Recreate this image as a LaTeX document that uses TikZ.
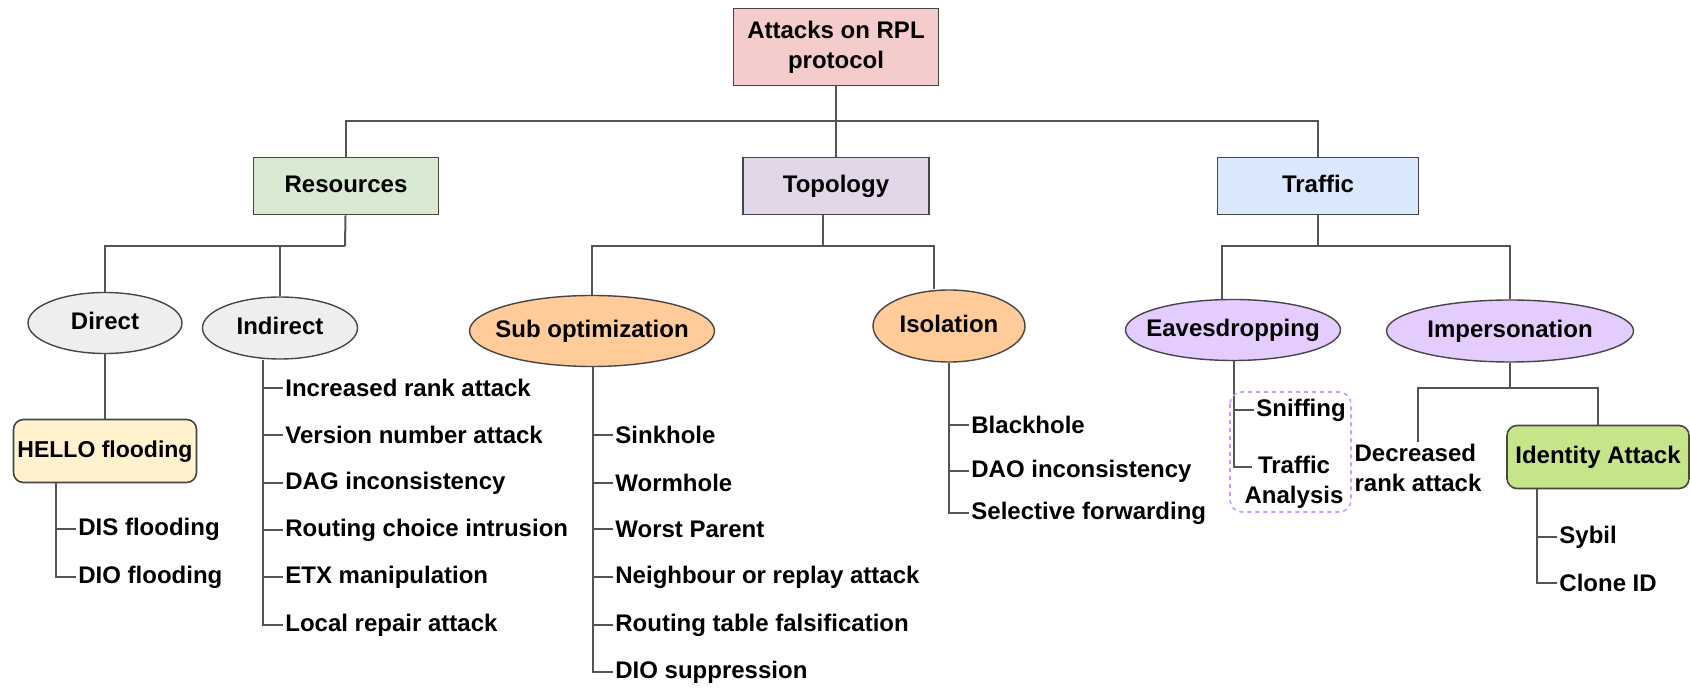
\documentclass[tikz,border=0pt]{standalone}
\usepackage{fontspec}
\setmainfont{Liberation Sans}
\usetikzlibrary{shapes.geometric}
\definecolor{rootred}{RGB}{244,204,204}
\definecolor{resgreen}{RGB}{217,234,211}
\definecolor{topopurple}{RGB}{226,214,232}
\definecolor{trafblue}{RGB}{218,232,252}
\definecolor{ovgray}{RGB}{238,238,238}
\definecolor{ovorange}{RGB}{255,204,153}
\definecolor{ovpurple}{RGB}{229,204,255}
\definecolor{hellocream}{RGB}{255,242,204}
\definecolor{idgreen}{RGB}{198,229,137}
\definecolor{dotpurple}{RGB}{204,153,255}
\definecolor{edge}{RGB}{70,70,70}
\definecolor{wire}{RGB}{85,85,85}

\begin{document}
\begin{tikzpicture}[x=0.5pt,y=-0.5pt,
  font=\fontsize{12}{15}\selectfont\bfseries,
  box/.style={draw=edge,line width=0.8pt,minimum height=28.5pt,align=center},
  oneline/.style={text height=9pt,text depth=2.6pt},
  oval/.style={ellipse,draw=edge,line width=0.7pt,inner xsep=-6pt,inner ysep=0pt,oneline},
  item/.style={anchor=west,inner sep=1pt},
  link/.style={draw=wire,line width=1pt},
  dotbox/.style={draw=dotpurple,line width=0.8pt,dash pattern=on 2pt off 2pt,rounded corners=6pt}]
\useasboundingbox (0,0) rectangle (1690,688); % frame of the page

% root and the three classes
\node[box,fill=rootred,minimum width=102.5pt,minimum height=38.5pt] (root) at (836,47) {Attacks on RPL\\protocol};
\node[box,oneline,fill=resgreen,minimum width=92.5pt] (res) at (346,186) {Resources};
\node[box,oneline,fill=topopurple,minimum width=93pt] (topo) at (836,186) {Topology};
\node[box,oneline,fill=trafblue,minimum width=100.5pt] (traf) at (1318,186) {Traffic};

% second level
\node[oval,fill=ovgray,minimum width=77pt,minimum height=30.5pt] (dir) at (105,323) {Direct};
\node[oval,fill=ovgray,minimum width=77.5pt,minimum height=31pt] (indir) at (280,328) {Indirect};
\node[oval,fill=ovorange,minimum width=122.5pt,minimum height=35.5pt] (sub) at (592,331) {Sub optimization};
\node[oval,fill=ovorange,minimum width=76pt,minimum height=36pt] (iso) at (949,326) {Isolation};
\node[oval,fill=ovpurple,minimum width=107.5pt,minimum height=30.5pt] (eav) at (1233,330) {Eavesdropping};
\node[oval,fill=ovpurple,minimum width=123.5pt,minimum height=31pt] (imp) at (1510,331) {Impersonation};

% boxes below the ovals
\node[box,oneline,rounded corners=5pt,fill=hellocream,minimum width=91.5pt,minimum height=31.5pt,inner xsep=2pt,font=\fontsize{11.5}{14}\selectfont\bfseries] (hello) at (105,451) {HELLO flooding};
\node[box,oneline,rounded corners=5pt,fill=idgreen,minimum width=91pt,minimum height=31.5pt] (idt) at (1598,457) {Identity Attack};
\node[align=left,inner sep=1pt] (dec) at (1418,468) {Decreased\\rank attack};

% bars
\coordinate (rootbar) at (836,121);
\coordinate (resbar) at (345,246);
\coordinate (topbar) at (823,246);
\coordinate (trbar) at (1318,246);
\coordinate (impbar) at (1510,388);

\draw[link] (root) -- (topo);
\draw[link] (res.north) |- (rootbar) -| (traf.north);
\draw[link] (res) -- (resbar);
\draw[link] (dir) |- (resbar);
\draw[link] (indir) |- (resbar);
\draw[link] (topo.south -| topbar) -- (topbar);
\draw[link] (sub) |- (topbar);
\draw[link] ([xshift=-7.5pt]iso.north) |- (topbar);
\draw[link] (traf) -- (trbar);
\draw[link] ([xshift=-5.5pt]eav.north) |- (trbar);
\draw[link] (imp) |- (trbar);
\draw[link] (dir) -- (hello);
\draw[link] (imp) -- (impbar);
\draw[link] (dec) |- (impbar);
\draw[link] (idt) |- (impbar);

% HELLO flooding list
\node[item] (dis) at (76,529) {DIS flooding};
\node[item] (dio) at (76,577) {DIO flooding};
\coordinate (hellospine) at ([xshift=-10pt]dis.west);
\draw[link] (hellospine |- hello.south) -- (hellospine |- dio.west) -- (dio.west);
\draw[link] (hellospine) -- (dis.west);

% Indirect list
\node[item] (inc) at (283,388) {Increased rank attack};
\node[item] (ver) at (283,435) {Version number attack};
\node[item] (dag) at (283,483) {DAG inconsistency};
\node[item] (rci) at (283,530) {Routing choice intrusion};
\node[item] (etx) at (283,577) {ETX manipulation};
\node[item] (lrep) at (283,625) {Local repair attack};
\coordinate (indspine) at ([xshift=-10pt]inc.west);
\draw[link] (indspine |- indir.south) -- (indspine |- lrep.west) -- (lrep.west);
\draw[link] (indspine) -- (inc.west) (indspine |- ver.west) -- (ver.west)
  (indspine |- dag.west) -- (dag.west) (indspine |- rci.west) -- (rci.west)
  (indspine |- etx.west) -- (etx.west);

% Sub optimization list
\node[item] (sink) at (613,435) {Sinkhole};
\node[item] (worm) at (613,483) {Wormhole};
\node[item] (worst) at (613,529) {Worst Parent};
\node[item] (neigh) at (613,577) {Neighbour or replay attack};
\node[item] (rtf) at (613,625) {Routing table falsification};
\node[item] (dios) at (613,672) {DIO suppression};
\coordinate (subspine) at ([xshift=-10pt]sink.west);
\draw[link] (subspine |- sub.south) -- (subspine |- dios.west) -- (dios.west);
\draw[link] (subspine) -- (sink.west) (subspine |- worm.west) -- (worm.west)
  (subspine |- worst.west) -- (worst.west) (subspine |- neigh.west) -- (neigh.west)
  (subspine |- rtf.west) -- (rtf.west);

% Isolation list
\node[item] (bh) at (969,425) {Blackhole};
\node[item] (daoi) at (969,471) {DAO inconsistency};
\node[item] (sf) at (969,513) {Selective forwarding};
\coordinate (isospine) at ([xshift=-10pt]bh.west);
\draw[link] (isospine |- iso.south) -- (isospine |- sf.west) -- (sf.west);
\draw[link] (isospine) -- (bh.west) (isospine |- daoi.west) -- (daoi.west);

% Eavesdropping list
\node[item] (sniff) at (1254,410) {Sniffing};
\node[align=center,inner sep=1pt] (ta) at (1294,482) {Traffic\\Analysis};
\coordinate (eavspine) at ([xshift=-10pt]sniff.west);
\coordinate (tatick) at ([shift={(5pt,7.5pt)}]ta.west);
\draw[link] (eavspine |- eav.south) -- (eavspine |- tatick) -- (tatick);
\draw[link] (eavspine) -- (sniff.west);
\draw[dotbox] (1230,392) rectangle (1351,512);

% Identity Attack list
\node[item] (sybil) at (1557,537) {Sybil};
\node[item] (clone) at (1557,583) {Clone ID};
\coordinate (idspine) at ([xshift=-10pt]sybil.west);
\draw[link] (idspine |- idt.south) -- (idspine |- clone.west) -- (clone.west);
\draw[link] (idspine) -- (sybil.west);
\end{tikzpicture}
\end{document}
